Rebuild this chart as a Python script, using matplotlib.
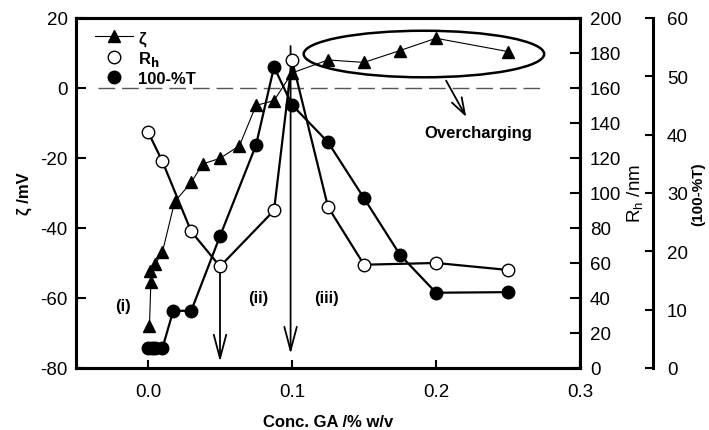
import matplotlib
matplotlib.use("Agg")
import matplotlib.pyplot as plt
from matplotlib.lines import Line2D
from matplotlib.patches import Ellipse, FancyArrowPatch

plt.rcParams["font.family"] = ["Liberation Sans", "DejaVu Sans"]
plt.rcParams["axes.unicode_minus"] = False

# zeta potential
conc_zeta = [0.001, 0.002, 0.0015, 0.005, 0.01, 0.0185, 0.03, 0.038, 0.05,
             0.0635, 0.075, 0.0875, 0.1, 0.125, 0.15, 0.175, 0.2, 0.25]
zeta = [-68, -55.3, -52.2, -50.3, -46.9, -32.5, -27, -21.7, -20.1,
        -16.5, -5, -3.6, 4.3, 8, 7.3, 10.7, 14.2, 10.4]

# hydrodynamic radius
conc_rh = [0.0, 0.01, 0.03, 0.05, 0.0875, 0.1, 0.125, 0.15, 0.2, 0.25]
rh = [135, 118, 78, 58, 90, 176, 92, 59, 60, 56]

# turbidity (100-%T)
conc_t = [0.0, 0.0025, 0.005, 0.01, 0.0175, 0.03, 0.05, 0.075, 0.0875,
          0.1, 0.125, 0.15, 0.175, 0.2, 0.25]
turb = [3.4, 3.4, 3.4, 3.4, 9.8, 9.8, 22.6, 38.2, 51.6,
        45.1, 38.7, 29.1, 19.4, 12.9, 13.0]

x_ticks = [0.0, 0.1, 0.2, 0.3]
x_ticklabels = ["0.0", "0.1", "0.2", "0.3"]

SPINE_W = 2.2
TICK_FS = 13.5
LAB_FS = 12

fig = plt.figure(figsize=(7.09, 4.31), dpi=100)
ax = fig.add_axes([0.1072, 0.1439, 0.7109, 0.8121])
ax2 = ax.twinx()
ax3 = ax.twinx()

# ── data ──
ax.plot(conc_zeta, zeta, color="black", lw=0.8, marker="^", ms=9, zorder=3)
ax2.plot(conc_rh, rh, color="black", lw=1.6, marker="o", ms=9,
         mfc="white", mec="black", mew=1.0)
ax3.plot(conc_t, turb, color="black", lw=1.6, marker="o", ms=9,
         mfc="black", mec="black")

# ── axes ──
ax.set_xlim(-0.05, 0.3)
ax.set_ylim(-80, 20)
ax.set_xticks(x_ticks)
ax.set_xticklabels(x_ticklabels)
ax.set_yticks(range(-80, 21, 20))
ax.tick_params(axis="y", direction="in", length=7, width=1.5,
               labelsize=TICK_FS, pad=6)
ax.tick_params(axis="x", direction="in", length=6, width=1.5,
               labelsize=TICK_FS, pad=11)
for s in ax.spines.values():
    s.set_linewidth(SPINE_W)

ax2.set_ylim(0, 200)
ax2.set_yticks(range(0, 201, 20))
ax2.tick_params(axis="y", direction="in", length=7, width=1.5,
                labelsize=TICK_FS, pad=7)
for s in ax2.spines.values():
    s.set_linewidth(SPINE_W)

ax3.set_ylim(0, 60)
ax3.set_yticks(range(0, 61, 10))
ax3.spines["right"].set_position(("outward", 52.6))
for k in ["top", "left", "bottom"]:
    ax3.spines[k].set_visible(False)
ax3.spines["right"].set_linewidth(SPINE_W)
ax3.tick_params(axis="y", direction="in", length=6, width=1.5,
                labelsize=TICK_FS, pad=10)

ax.set_xlabel("Conc. GA /% w/v", fontsize=LAB_FS, fontweight="bold", labelpad=10)
ax.set_ylabel("ζ /mV", fontsize=LAB_FS, fontweight="bold", labelpad=6)
ax2.set_ylabel("R$_\\mathregular{h}$ /nm", fontsize=TICK_FS, labelpad=3)
ax3.set_ylabel("(100-%T)", fontsize=11, fontweight="bold", labelpad=2)

# ── annotations ──
ax.axhline(0, xmin=0.044, xmax=0.93, color="#555555", lw=1.0,
           dashes=(12, 5), zorder=1)

ax.add_patch(Ellipse((0.1916, 9.7), 0.167, 13.3, fill=False,
                     lw=1.8, ec="black"))

for x0, y0, y1 in [(0.05, 56, 3.5), (0.099, 184, 8)]:
    ax2.add_patch(FancyArrowPatch((x0, y0), (x0, y1),
                  arrowstyle="->,head_length=1.7,head_width=0.45",
                  mutation_scale=10, lw=1.3, color="black",
                  shrinkA=0, shrinkB=0))

ax.add_patch(FancyArrowPatch((0.207, 2.1), (0.221, -8.3),
             arrowstyle="->,head_length=1.2,head_width=0.4",
             mutation_scale=10, lw=1.3, color="black",
             shrinkA=0, shrinkB=0))
ax.text(0.1917, -12.7, "Overcharging", fontsize=LAB_FS, fontweight="bold",
        ha="left", va="center")

ax.text(-0.0174, -62.2, "(i)", fontsize=LAB_FS, fontweight="bold",
        ha="center", va="center")
ax.text(0.0765, -59.8, "(ii)", fontsize=LAB_FS, fontweight="bold",
        ha="center", va="center")
ax.text(0.124, -59.8, "(iii)", fontsize=LAB_FS, fontweight="bold",
        ha="center", va="center")

# ── legend ──
handles = [
    Line2D([], [], color="black", lw=0.8, marker="^", ms=9),
    Line2D([], [], ls="none", marker="o", ms=9, mfc="white", mec="black"),
    Line2D([], [], ls="none", marker="o", ms=9, mfc="black", mec="black"),
]
labels = ["ζ", "R$_\\mathbf{h}$", "100-%T"]
leg = ax3.legend(handles, labels, loc="upper left",
                 bbox_to_anchor=(0.0377, 0.965), frameon=False,
                 borderaxespad=0, borderpad=0, handlelength=2.3,
                 handletextpad=0.3, labelspacing=0.2,
                 prop={"weight": "bold", "size": LAB_FS})

fig.savefig("out.png", dpi=100)
